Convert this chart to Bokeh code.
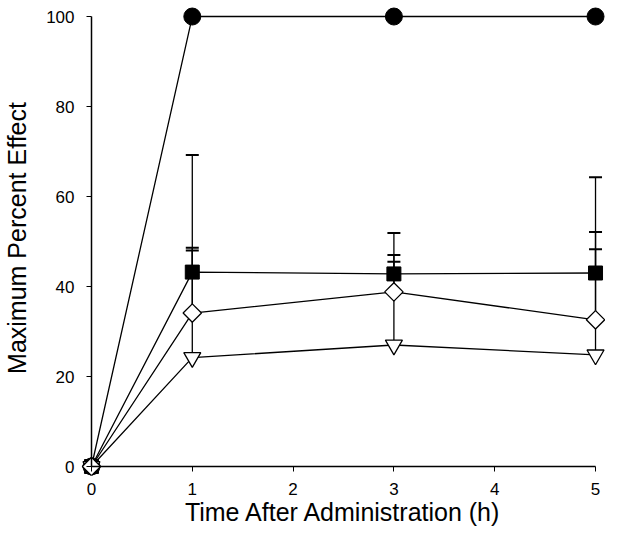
import numpy as np
from bokeh.plotting import figure
from bokeh.models import Range1d, FixedTicker, LinearAxis
from bokeh.embed import file_html
from bokeh.resources import INLINE

# Data
time_h = [0, 1, 3, 5]
circle_vals = [0, 100, 100, 100]
square_vals = [0, 43.2, 42.8, 43.0]
diamond_vals = [0, 34.1, 38.8, 32.6]
triangle_vals = [0, 24.2, 27.0, 24.8]

err_time = [1, 3, 5]
square_err_top = [48.6, 45.5, 48.3]
diamond_err_top = [69.2, 51.9, 64.3]
triangle_err_top = [48.0, 47.0, 52.1]

x_ticks = [0, 1, 2, 3, 4, 5]
y_ticks = [0, 20, 40, 60, 80, 100]

FONT = "Liberation Sans"

p = figure(width=605, height=532, output_backend="svg", toolbar_location=None,
           x_range=Range1d(-0.099, 5.099), y_range=Range1d(-2.0, 103.56),
           min_border_left=80, min_border_right=0, min_border_top=0, min_border_bottom=57)
p.outline_line_color = None
p.grid.visible = False
p.background_fill_color = "white"
p.border_fill_color = "white"

# error bars (upper only)
for tops, vals in [(square_err_top, square_vals[1:]), (diamond_err_top, diamond_vals[1:]),
                   (triangle_err_top, triangle_vals[1:])]:
    p.segment(x0=err_time, y0=vals, x1=err_time, y1=tops, line_color="black", line_width=1.3)
    p.scatter(x=err_time, y=tops, marker="dash", size=13, line_color="black", line_width=2)

# lines
for vals in [circle_vals, square_vals, triangle_vals, diamond_vals]:
    p.line(time_h, vals, line_color="black", line_width=1.3)

p.scatter(time_h, circle_vals, marker="circle", size=17, fill_color="black", line_color="black")
p.scatter(time_h, square_vals, marker="square", size=14, fill_color="black", line_color="black")
p.scatter(time_h, triangle_vals, marker="inverted_triangle", size=17, fill_color="white",
          line_color="black", line_width=1.3)
p.scatter(time_h, diamond_vals, marker="square", angle=np.pi / 4, size=13, fill_color="white",
          line_color="black", line_width=1.3)

# default axes: labels only (at frame edges)
p.xaxis.ticker = FixedTicker(ticks=x_ticks)
p.yaxis.ticker = FixedTicker(ticks=y_ticks)
p.axis.axis_line_color = None
p.axis.major_tick_line_color = None
p.axis.minor_tick_line_color = None
p.axis.major_tick_in = 0
p.axis.major_tick_out = 0
p.axis.major_label_text_font = FONT
p.axis.major_label_text_font_size = "17px"
p.axis.major_label_text_color = "black"
p.yaxis.major_label_standoff = 7
p.xaxis.major_label_standoff = 7
p.xaxis.axis_label = "Time After Administration (h)"
p.yaxis.axis_label = "Maximum Percent Effect"
p.axis.axis_label_text_font = FONT
p.axis.axis_label_text_font_size = "25px"
p.axis.axis_label_text_font_style = "normal"
p.axis.axis_label_text_color = "black"
p.xaxis.axis_label_standoff = 0
p.yaxis.axis_label_standoff = 12

# axis lines through the origin (placed in opposite panels so they take no room)
for place, ticks, bnds in [("above", x_ticks, (0, 5)), ("right", y_ticks, (0, 100))]:
    ax = LinearAxis(fixed_location=0, bounds=bnds, ticker=FixedTicker(ticks=ticks))
    ax.axis_line_width = 1.5
    ax.axis_line_color = "black"
    ax.major_tick_line_color = "black"
    ax.major_tick_in = 5
    ax.major_tick_out = 0
    ax.minor_tick_line_color = None
    ax.major_label_text_color = None
    ax.major_label_text_font_size = "0px"
    ax.major_label_standoff = 0
    p.add_layout(ax, place)

open("out.html", "w").write(file_html(p, INLINE))
